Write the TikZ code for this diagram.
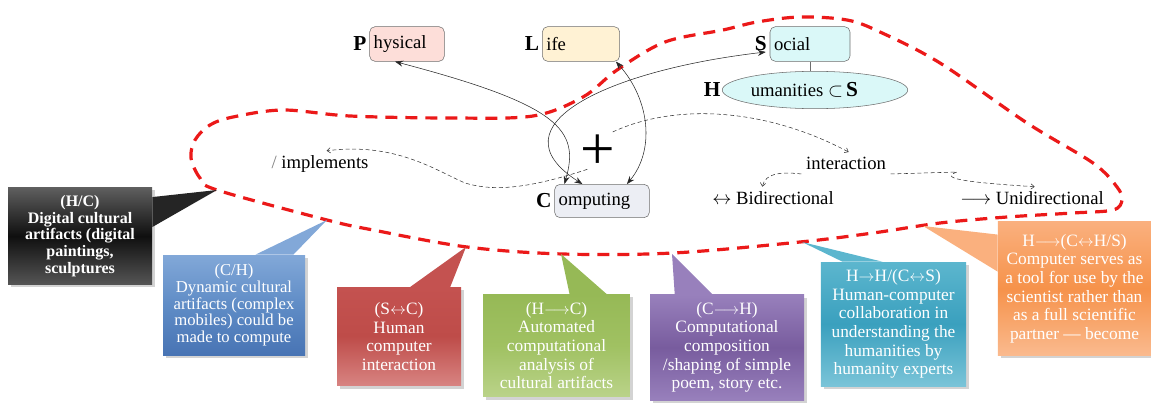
\documentclass[tikz,border=0pt]{standalone}
\usepackage{fontspec}
\setmainfont{Liberation Serif}
\usepackage{xcolor}
\definecolor{dh_phys}{RGB}{253, 222, 217}
\definecolor{dh_life}{RGB}{255, 242, 212}
\definecolor{dh_soc}{RGB}{218, 248, 248}
\definecolor{dh_comp}{RGB}{236, 238, 244}
\definecolor{dh_edge}{RGB}{110, 110, 110}
\definecolor{dh_loop}{RGB}{235, 25, 25}
\definecolor{dh_blk_t}{RGB}{95, 95, 95}
\definecolor{dh_blk_m}{RGB}{15, 15, 15}
\definecolor{dh_blk_b}{RGB}{85, 85, 85}
\definecolor{dh_blu_t}{RGB}{130, 168, 216}
\definecolor{dh_blu_m}{RGB}{95, 140, 198}
\definecolor{dh_blu_b}{RGB}{72, 116, 180}
\definecolor{dh_red_t}{RGB}{196, 82, 80}
\definecolor{dh_red_m}{RGB}{190, 76, 73}
\definecolor{dh_red_b}{RGB}{216, 132, 130}
\definecolor{dh_grn_t}{RGB}{150, 185, 86}
\definecolor{dh_grn_m}{RGB}{160, 193, 98}
\definecolor{dh_grn_b}{RGB}{186, 211, 137}
\definecolor{dh_pur_t}{RGB}{152, 128, 188}
\definecolor{dh_pur_m}{RGB}{120, 92, 158}
\definecolor{dh_pur_b}{RGB}{152, 128, 188}
\definecolor{dh_tea_t}{RGB}{92, 182, 206}
\definecolor{dh_tea_m}{RGB}{58, 160, 190}
\definecolor{dh_tea_b}{RGB}{122, 196, 216}
\definecolor{dh_ora_t}{RGB}{250, 176, 126}
\definecolor{dh_ora_m}{RGB}{246, 146, 74}
\definecolor{dh_ora_b}{RGB}{250, 186, 142}
\usepackage{tikz}
\usetikzlibrary{arrows.meta, positioning, shapes.geometric, calc, shadows}

\begin{document}
\begin{tikzpicture}[x=0.75pt, y=-0.75pt, node distance=0.4cm,
    topbox/.style={draw=dh_edge, rounded corners=4pt, align=left,
                   font=\fontsize{14}{16}\selectfont,
                   minimum height=26pt, inner xsep=3pt},
    bigletter/.style={font=\fontsize{16}{16}\selectfont\bfseries, inner sep=1pt},
    lbl/.style={font=\fontsize{14}{16}\selectfont},
    callout/.style={align=center, text=white, inner sep=2pt,
                    drop shadow={opacity=0.35, shadow xshift=2pt, shadow yshift=-2pt},
                    font=\fontsize{13}{14}\selectfont},
    solidlink/.style={{Stealth[length=6pt,width=4.5pt]}-{Stealth[length=6pt,width=4.5pt]},
                      thin, black!85},
    dashlink/.style={-{Straight Barb[length=2.5pt,width=4pt]}, thin, black!80,
                     dash pattern=on 3pt off 2pt},
    loopline/.style={dh_loop, line width=2.4pt, dash pattern=on 9pt off 6pt}]
        \useasboundingbox (0,0) rectangle (1151,406);

        % the dashed boundary
        \draw[loopline] plot[smooth cycle, tension=0.55] coordinates {
              (217,190) (200,178) (191,158) (195,140) (210,125) (233,117)
              (283,110) (350,116) (450,118) (533,116) (583,97) (617,70)
              (665,42) (723,30) (757,22) (800,17) (847,20) (880,32)
              (940,63) (1027,123) (1093,163) (1117,187) (1122,200)
              (1113,210) (1073,213) (1007,217) (940,223) (873,233)
              (800,242) (673,253) (563,254) (467,247) (373,230) (327,220)};

        % top row
        \node[topbox, fill=dh_phys, text width=50pt] (phys) at (407,44) {hysical};
        \node[bigletter, left=1pt of phys] (physL) {P};
        \node[topbox, fill=dh_life, text width=52pt] (life) at (581,44) {ife};
        \node[bigletter, left=1pt of life] (lifeL) {L};
        \node[topbox, fill=dh_soc, text width=54pt] (soc) at (810,44) {ocial};
        \node[bigletter, left=1pt of soc] (socL) {S};
        \node[ellipse, draw=dh_edge, fill=dh_soc, minimum width=124pt,
              minimum height=28pt, inner sep=1pt, lbl]
              (hum) at (815,90)
              {umanities {\bfseries$\subset$\,\fontsize{16}{16}\selectfont S}\hspace*{16pt}};
        \node[bigletter, left=0pt of hum] (humL) {H};
        \draw[dh_edge] (soc.south) -- (soc.south |- hum.north);

        % computing and the plus
        \node[topbox, fill=dh_comp, minimum height=25pt, text width=65pt]
              (comp) at (602,201) {omputing};
        \node[bigletter, left=1pt of comp] (compL) {C};
        \node[font=\fontsize{46}{46}\selectfont, inner sep=0pt] (plus) at (598,152) {+};

        % plain labels
        \node[lbl] (impl) at (320,164) {{\color{gray}/} implements};
        \node[lbl] (inter) at (846,163) {interaction};
        \node[lbl] (bidi) at (773,198) {$\leftrightarrow$ Bidirectional};
        \node[lbl] (unid) at (1032,198) {$\longrightarrow$ Unidirectional};

        % solid links
        \draw[solidlink] ([xshift=-9pt]phys.south) .. controls (560,105) and (580,130)
              .. ([xshift=7.5pt]comp.north west);
        \draw[solidlink] ([xshift=21pt]comp.north west) .. controls (490,125) and (610,70)
              .. ([xshift=-3pt,yshift=-6pt]soc.west);
        \draw[solidlink] ([xshift=-3pt]life.south east) .. controls (650,100) and (655,150)
              .. ([xshift=-17pt]comp.north east);

        % dashed links
        \draw[dashlink] ([xshift=11pt,yshift=15pt]plus.center) .. controls (670,105) and (760,105)
              .. ([xshift=2pt]inter.north);
        \draw[dashlink] ([xshift=-8pt,yshift=-13pt]plus.center) .. controls (530,188) and (495,192)
              .. (465,183) .. controls (435,170) and (395,142) .. ([xshift=5pt]impl.north);
        \draw[dashlink] (inter.south west) .. controls (785,172) and (765,172)
              .. ([xshift=-8pt]bidi.north);
        \draw[dashlink] (inter.south east) -- (957,172) .. controls (940,178) and (960,182)
              .. ([xshift=2pt]unid.north);

        % callouts
        \node[callout, top color=dh_blk_t, bottom color=dh_blk_b, middle color=dh_blk_m,
              minimum width=108pt, minimum height=73pt,
              font=\fontsize{12}{12.5}\selectfont\bfseries]
              (cdig) at (80,236)
              {(H/C)\\Digital cultural\\artifacts (digital\\paintings,\\sculptures};
        \coordinate (tdig) at (217,190);
        \fill[dh_blk_m!80!gray] ($(cdig.north east)+(0,10)$) -- (tdig)
              -- ($(cdig.north east)+(0,40)$) -- cycle;

        \node[callout, top color=dh_blu_t, bottom color=dh_blu_b, middle color=dh_blu_m,
              minimum width=106.5pt, minimum height=75pt,
              font=\fontsize{12.5}{12.5}\selectfont]
              (cdyn) at (234,305)
              {(C/H)\\Dynamic cultural\\artifacts (complex\\mobiles) could be\\made to compute};
        \coordinate (tdyn) at (327,220);
        \fill[dh_blu_t] ($(cdyn.north east)+(-50,0)$) -- (tdyn)
              -- ($(cdyn.north east)+(-12,0)$) -- cycle;

        \node[callout, top color=dh_red_t, bottom color=dh_red_b, middle color=dh_red_m,
              minimum width=93pt, minimum height=74pt]
              (chci) at (399,336.5)
              {(S$\leftrightarrow$C)\\Human\\computer\\interaction};
        \coordinate (thci) at (466,247);
        \fill[dh_red_t] ($(chci.north east)+(-51,0)$) -- (thci)
              -- ($(chci.north east)+(-11,0)$) -- cycle;

        \node[callout, top color=dh_grn_t, bottom color=dh_grn_b, middle color=dh_grn_m,
              minimum width=110pt, minimum height=77pt]
              (cauto) at (556.5,345.5)
              {(H$\longrightarrow$C)\\Automated\\computational\\analysis of\\cultural artifacts};
        \coordinate (tauto) at (561,254);
        \fill[dh_grn_t] ($(cauto.north)+(13,0)$) -- (tauto)
              -- ($(cauto.north)+(50,0)$) -- cycle;

        \node[callout, top color=dh_pur_t, bottom color=dh_pur_b, middle color=dh_pur_m,
              minimum width=115.5pt, minimum height=79pt]
              (ccomp) at (727,347.5)
              {(C$\longrightarrow$H)\\Computational\\composition\\/shaping of simple\\poem, story etc.};
        \coordinate (tcomp) at (672,254);
        \fill[dh_pur_t] ($(ccomp.north west)+(25,0)$) -- (tcomp)
              -- ($(ccomp.north west)+(63,0)$) -- cycle;

        \node[callout, top color=dh_tea_t, bottom color=dh_tea_b, middle color=dh_tea_m,
              minimum width=109pt, minimum height=93pt]
              (ccoll) at (893.5,324)
              {H$\rightarrow$H/(C$\leftrightarrow$S)\\Human-computer\\collaboration in\\understanding the\\humanities by\\humanity experts};
        \coordinate (tcoll) at (802,242);
        \fill[dh_tea_t] ($(ccoll.north west)+(22,0)$) -- (tcoll)
              -- ($(ccoll.north west)+(62,0)$) -- cycle;

        \node[callout, top color=dh_ora_t, bottom color=dh_ora_b, middle color=dh_ora_m,
              minimum width=115pt, minimum height=100pt]
              (ctool) at (1074.5,288.5)
              {H$\longrightarrow$(C$\leftrightarrow$H/S)\\Computer serves as\\a tool for use by the\\scientist rather than\\as a full scientific\\partner --- become};
        \coordinate (ttool) at (923,226);
        \fill[dh_ora_t] ($(ctool.north west)+(0,13)$) -- (ttool)
              -- ($(ctool.north west)+(0,50)$) -- cycle;
      \end{tikzpicture}
\end{document}
